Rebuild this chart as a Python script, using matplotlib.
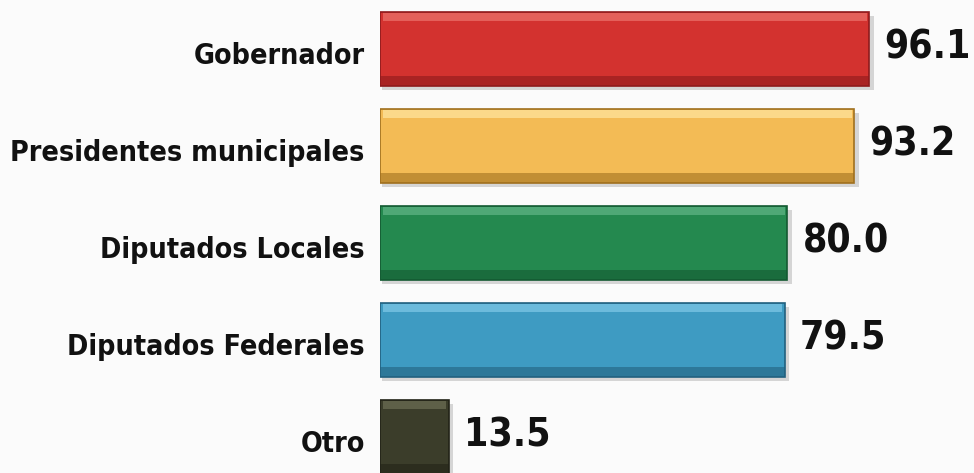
import numpy as np
import matplotlib
matplotlib.use('Agg')
import matplotlib.pyplot as plt

categories = ['Gobernador', 'Presidentes municipales', 'Diputados Locales',
              'Diputados Federales', 'Otro']
values = [96.1, 93.2, 80.0, 79.5, 13.5]
colors = ['#d3322f', '#f3bb55', '#24894f', '#3e9bc2', '#3b3d2a']
dark = ['#8e1a1c', '#a0701e', '#145a32', '#22617f', '#222317']
light = ['#e4605a', '#fbd98a', '#4fa876', '#6cbbdc', '#5e6048']

fig = plt.figure(figsize=(9.74, 4.73), dpi=100)
fig.patch.set_facecolor('#fbfbfb')
ax = fig.add_axes([380 / 974, 0, 1 - 380 / 974, 1])
ax.set_facecolor('none')

y = np.arange(len(categories))
h = 0.76

# shadow
ax.barh(y + 0.04, np.array(values) + 0.6, height=h, left=0.3, color='#b0b0b0', alpha=0.5, zorder=1)
# main bars
ax.barh(y, values, height=h, color=colors, edgecolor=dark, linewidth=1.2, zorder=2)
# bevel: light top strip, dark bottom strip
ax.barh(y - h / 2 + 0.05, np.array(values) - 1.0, left=0.5, height=0.08, color=light, zorder=3)
ax.barh(y + h / 2 - 0.05, np.array(values), height=0.1, color=dark, alpha=0.6, zorder=3)

for i, (cat, v) in enumerate(zip(categories, values)):
    ax.annotate(cat, xy=(0, i), xytext=(-11, -5), textcoords='offset points',
                ha='right', va='center', fontsize=20.5, fontweight='bold',
                family='DejaVu Sans', fontstretch='condensed', color='#111111')
    ax.annotate(f'{v:.1f}', xy=(v, i), xytext=(11, 1), textcoords='offset points',
                ha='left', va='center', fontsize=28, fontweight='bold',
                family='DejaVu Sans', fontstretch='condensed', color='#111111')

ax.set_xlim(0, 116.7)
ax.set_ylim(4.37, -0.505)
ax.axis('off')

fig.savefig('out.png', dpi=100, facecolor=fig.get_facecolor())
